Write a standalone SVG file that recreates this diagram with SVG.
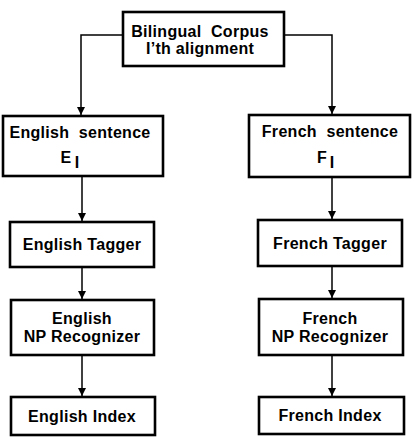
<svg xmlns="http://www.w3.org/2000/svg" width="412" height="440" viewBox="0 0 412 440">
<style>
.box{fill:#fff;stroke:#000;stroke-width:2.6}
.t{font-family:"Liberation Sans",Arial,sans-serif;font-weight:bold;font-size:16px;letter-spacing:0.3px;fill:#000;text-anchor:middle}
.c{fill:none;stroke:#000;stroke-width:1.5}
</style>
<defs>
<marker id="ah" viewBox="0 0 10 10" refX="10" refY="5" markerWidth="8" markerHeight="8" markerUnits="userSpaceOnUse" orient="auto">
<path d="M0,0 L10,5 L0,10 z" fill="#000"/>
</marker>
</defs>
<rect width="412" height="440" fill="#fff"/>
<g id="connectors">
<path class="c" d="M123,35 H81 V115" marker-end="url(#ah)"/>
<path class="c" d="M284,35 H332 V114" marker-end="url(#ah)"/>
<path class="c" d="M82,176 V221" marker-end="url(#ah)"/>
<path class="c" d="M332,177 V219" marker-end="url(#ah)"/>
<path class="c" d="M82,267 V299" marker-end="url(#ah)"/>
<path class="c" d="M332,266 V298" marker-end="url(#ah)"/>
<path class="c" d="M82,355 V396" marker-end="url(#ah)"/>
<path class="c" d="M332,355 V396" marker-end="url(#ah)"/>
</g>
<g id="corpus">
<rect class="box" x="123" y="12" width="161" height="54"/>
<text class="t" x="200" y="37">Bilingual&#160; Corpus</text>
<text class="t" x="200" y="54">I’th alignment</text>
</g>
<g id="english-sentence">
<rect class="box" x="3" y="116" width="160" height="60"/>
<text class="t" x="80" y="138">English&#160; sentence</text>
<text class="t" x="66" y="163">E</text>
<text class="t" x="77" y="168" font-size="12">I</text>
</g>
<g id="french-sentence">
<rect class="box" x="249" y="115" width="161" height="62"/>
<text class="t" x="330" y="137">French&#160; sentence</text>
<text class="t" x="322" y="163">F</text>
<text class="t" x="332" y="168" font-size="12">I</text>
</g>
<g id="english-tagger">
<rect class="box" x="10" y="222" width="144" height="45"/>
<text class="t" x="82" y="250">English Tagger</text>
</g>
<g id="french-tagger">
<rect class="box" x="258" y="220" width="144" height="46"/>
<text class="t" x="330" y="249">French Tagger</text>
</g>
<g id="english-np">
<rect class="box" x="11" y="300" width="143" height="55"/>
<text class="t" x="82" y="324">English</text>
<text class="t" x="82" y="342">NP Recognizer</text>
</g>
<g id="french-np">
<rect class="box" x="259" y="299" width="144" height="56"/>
<text class="t" x="330" y="324">French</text>
<text class="t" x="330" y="342">NP Recognizer</text>
</g>
<g id="english-index">
<rect class="box" x="11" y="397" width="144" height="38"/>
<text class="t" x="82" y="422">English Index</text>
</g>
<g id="french-index">
<rect class="box" x="259" y="397" width="145" height="37"/>
<text class="t" x="330" y="421">French Index</text>
</g>
</svg>
